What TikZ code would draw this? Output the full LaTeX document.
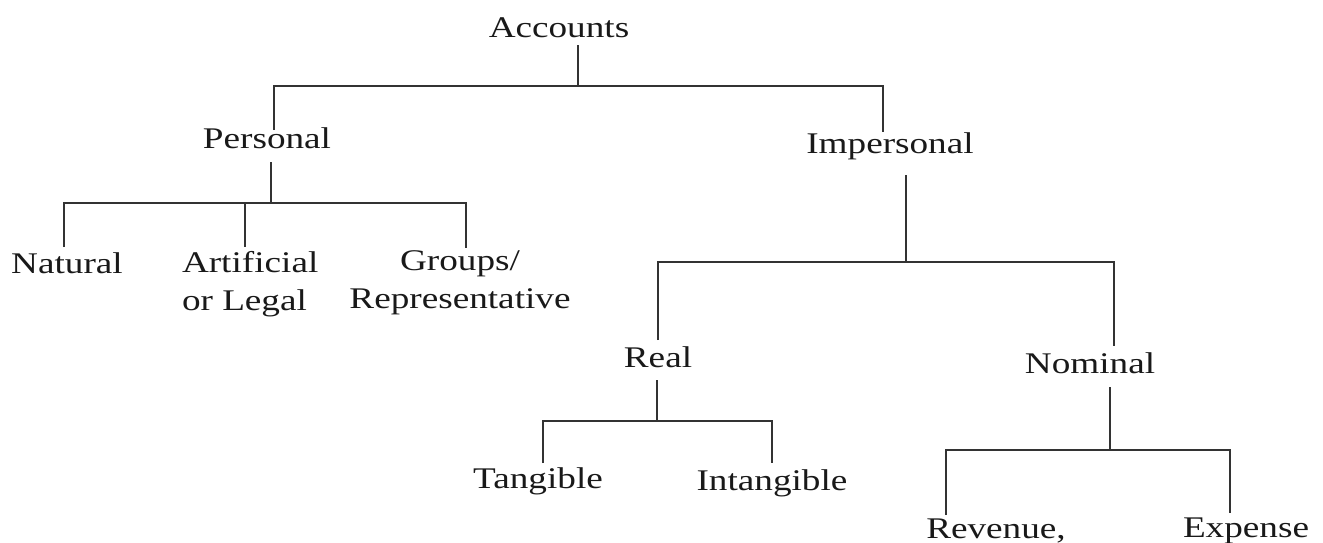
\documentclass[tikz,border=0pt]{standalone}
\usepackage{fontspec}
\setmainfont{Liberation Serif}[FakeStretch=1.24]
\begin{document}
\begin{tikzpicture}[x=1pt,y=-1pt,
  lbl/.style={inner sep=0pt,outer sep=0pt,font=\fontsize{30}{38}\selectfont,text=black!90,anchor=base},
  conn/.style={line width=2pt,draw=black!80}]
\useasboundingbox (0,0) rectangle (1323,542);
% text nodes
\node[lbl] (acc) at (559,37) {Accounts};
\node[lbl] (per) at (267,148) {Personal};
\node[lbl] (imp) at (890,153) {Impersonal};
\node[lbl] (nat) at (67,273) {Natural};
\node[lbl,anchor=base west,align=left] (art) at (182,310) {Artificial\\or Legal};
\node[lbl,align=center] (grp) at (460,308) {Groups/\\Representative};
\node[lbl] (real) at (658,367) {Real};
\node[lbl] (nom) at (1090,373) {Nominal};
\node[lbl] (tan) at (538,488) {Tangible};
\node[lbl] (int) at (772,490) {Intangible};
\node[lbl] (rev) at (996,538) {Revenue,};
\node[lbl] (exp) at (1246,537) {Expense};
% junction coordinates
\coordinate (accT) at (578,45);  \coordinate (accJ) at (578,86);
\coordinate (perJ) at (274,86);  \coordinate (perE) at (274,130);
\coordinate (impJ) at (883,86);  \coordinate (impE) at (883,132);
\coordinate (perT) at (271,162); \coordinate (perB) at (271,203);
\coordinate (natJ) at (64,203);  \coordinate (natE) at (64,247);
\coordinate (artJ) at (245,203); \coordinate (artE) at (245,247);
\coordinate (grpJ) at (466,203); \coordinate (grpE) at (466,248);
\coordinate (impT) at (906,175); \coordinate (impB) at (906,262);
\coordinate (realJ) at (658,262); \coordinate (realE) at (658,340);
\coordinate (nomJ) at (1114,262); \coordinate (nomE) at (1114,346);
\coordinate (realT) at (657,380); \coordinate (realB) at (657,421);
\coordinate (tanJ) at (543,421); \coordinate (tanE) at (543,463);
\coordinate (intJ) at (772,421); \coordinate (intE) at (772,463);
\coordinate (nomT) at (1110,387); \coordinate (nomB) at (1110,450);
\coordinate (revJ) at (946,450); \coordinate (revE) at (946,515);
\coordinate (expJ) at (1230,450); \coordinate (expE) at (1230,513);
% connectors
\draw[conn] (accT) -- (accJ);
\draw[conn] (perE) -- (perJ) -- (impJ) -- (impE);
\draw[conn] (perT) -- (perB);
\draw[conn] (natE) -- (natJ) -- (grpJ) -- (grpE);
\draw[conn] (artJ) -- (artE);
\draw[conn] (impT) -- (impB);
\draw[conn] (realE) -- (realJ) -- (nomJ) -- (nomE);
\draw[conn] (realT) -- (realB);
\draw[conn] (tanE) -- (tanJ) -- (intJ) -- (intE);
\draw[conn] (nomT) -- (nomB);
\draw[conn] (revE) -- (revJ) -- (expJ) -- (expE);
\end{tikzpicture}
\end{document}
